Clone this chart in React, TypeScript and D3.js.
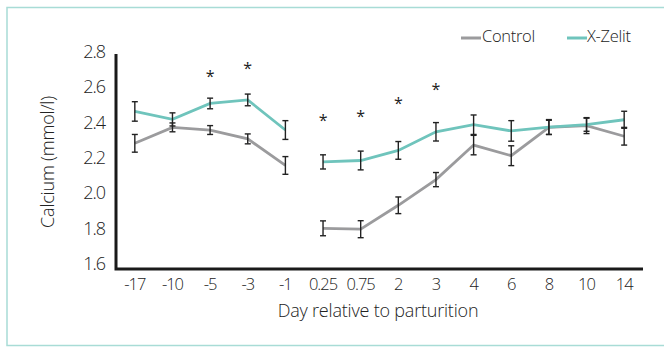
import * as d3 from 'd3';

const days = ['-17', '-10', '-5', '-3', '-1', '0.25', '0.75', '2', '3', '4', '6', '8', '10', '14'];
const controlMean = [2.29, 2.38, 2.365, 2.315, 2.165, 1.81, 1.805, 1.94, 2.085, 2.28, 2.22, 2.38, 2.39, 2.33];
const controlErr = [0.05, 0.025, 0.025, 0.028, 0.05, 0.042, 0.048, 0.047, 0.04, 0.055, 0.056, 0.04, 0.045, 0.05];
const zelitMean = [2.47, 2.425, 2.515, 2.535, 2.365, 2.185, 2.193, 2.25, 2.355, 2.395, 2.36, 2.382, 2.395, 2.423];
const zelitErr = [0.055, 0.037, 0.03, 0.033, 0.053, 0.04, 0.053, 0.05, 0.052, 0.055, 0.058, 0.042, 0.037, 0.048];
// significance markers: [day, y position]
const stars: [string, number][] = [['-5', 2.675], ['-3', 2.72], ['0.25', 2.43], ['0.75', 2.45], ['2', 2.525], ['3', 2.605]];
const yTicks = [1.6, 1.8, 2.0, 2.2, 2.4, 2.6, 2.8];

const CONTROL = '#9b9b9d';
const ZELIT = '#6fc4bc';
const FONT = "'Open Sans', sans-serif";
const INK = '#222';

export default function App() {
  const x = d3.scaleBand<string>().domain(days).range([116, 643]);
  const y = d3.scaleLinear().domain([1.6, 2.8]).range([265.5, 53]);
  const cx = (d: string) => (x(d) ?? 0) + x.bandwidth() / 2;

  // the lines break between day -1 and day 0.25
  const line = d3.line<[string, number]>().x(d => cx(d[0])).y(d => y(d[1]));
  const segments = (vals: number[]) => {
    const pts = days.map((d, i) => [d, vals[i]] as [string, number]);
    return [pts.slice(0, 5), pts.slice(5)];
  };

  const errBars = (vals: number[], errs: number[]) =>
    days.map((d, i) => {
      const px = cx(d);
      const top = y(vals[i] + errs[i]);
      const bot = y(vals[i] - errs[i]);
      return (
        <g key={d} stroke="#222" strokeWidth={1.4}>
          <line x1={px} x2={px} y1={top} y2={bot} />
          <line x1={px - 3} x2={px + 3} y1={top} y2={top} />
          <line x1={px - 3} x2={px + 3} y1={bot} y2={bot} />
        </g>
      );
    });

  return (
    <svg width={664} height={347} style={{ position: 'absolute', left: 0, top: 0, background: '#fff' }} fontFamily={FONT} fontWeight={300}>
      <rect x={7} y={7.5} width={700} height={338} fill="none" stroke="#a8dcd6" strokeWidth={1.5} />

      {/* legend */}
      <line x1={461} x2={481} y1={38} y2={38} stroke={CONTROL} strokeWidth={3} />
      <text x={482} y={38} dominantBaseline="middle" fontSize={16.5} fill={INK} letterSpacing={-0.3}>Control</text>
      <line x1={567} x2={587} y1={38} y2={38} stroke={ZELIT} strokeWidth={3} />
      <text x={587} y={38} dominantBaseline="middle" fontSize={16.5} fill={INK} letterSpacing={-0.3}>X-Zelit</text>

      {/* y ticks */}
      {yTicks.map(t => (
        <text key={t} x={105} y={y(t)} textAnchor="end" dominantBaseline="middle" fontSize={18} fill={INK} letterSpacing={-1}>
          {t.toFixed(1)}
        </text>
      ))}
      {/* x ticks */}
      {days.map(d => (
        <text key={d} x={cx(d)} y={286} textAnchor="middle" dominantBaseline="middle" fontSize={16.5} fill={INK} letterSpacing={-1}>
          {d}
        </text>
      ))}

      <text x={378} y={312} textAnchor="middle" dominantBaseline="middle" fontSize={18} fill={INK} letterSpacing={-0.2}>
        Day relative to parturition
      </text>
      <text transform="translate(49,162) rotate(-90)" textAnchor="middle" dominantBaseline="middle" fontSize={18} fill={INK} letterSpacing={-0.2}>
        Calcium (mmol/l)
      </text>

      {/* series */}
      {segments(controlMean).map((s, i) => (
        <path key={'c' + i} d={line(s) ?? ''} fill="none" stroke={CONTROL} strokeWidth={2.8} />
      ))}
      {segments(zelitMean).map((s, i) => (
        <path key={'z' + i} d={line(s) ?? ''} fill="none" stroke={ZELIT} strokeWidth={2.8} />
      ))}
      {errBars(controlMean, controlErr)}
      {errBars(zelitMean, zelitErr)}

      {stars.map(([d, v]) => (
        <text key={d} x={cx(d)} y={y(v)} textAnchor="middle" dominantBaseline="middle" fontSize={16} fontWeight={400} fill={INK} dy={3}>
          *
        </text>
      ))}

      {/* axes */}
      <path d={`M${x.range()[0]},${y(2.8) + 1}V${y(1.6) + 3.5}H${x.range()[1]}`} fill="none" stroke="#1a1a1a" strokeWidth={3} />
    </svg>
  );
}
